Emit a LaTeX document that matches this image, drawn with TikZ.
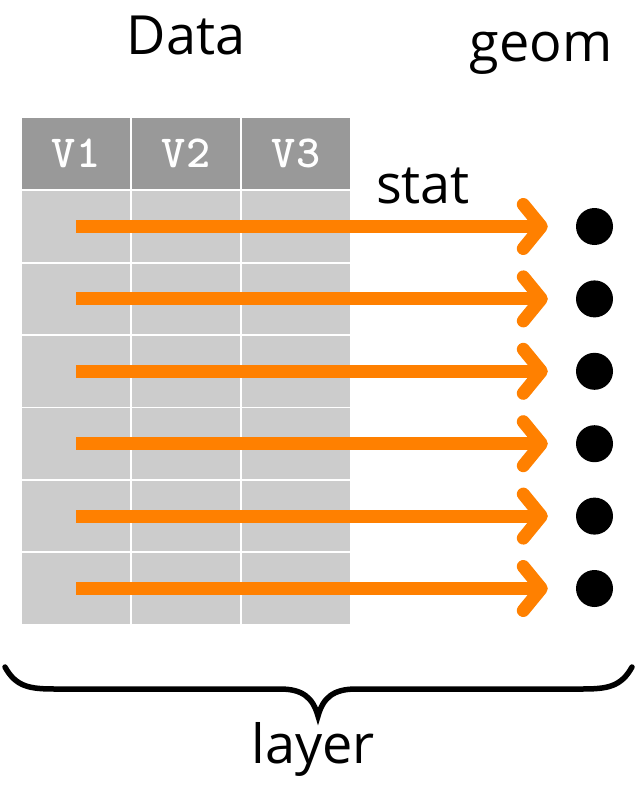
\documentclass[tikz,border=0pt]{standalone}
\usepackage{fontspec}
\setmainfont{Open Sans}
\usepackage{tikz}
\usetikzlibrary{arrows.meta,calc,positioning}
\definecolor{flow}{HTML}{FF8000}
\definecolor{headgray}{HTML}{999999}
\definecolor{cellgray}{HTML}{CCCCCC}

\begin{document}
\begin{tikzpicture}[x=1pt,y=-1pt,>={Straight Barb[length=18pt,width=44pt,round]}]
    \tikzstyle{hcell}=[fill=headgray,text=white,minimum width=108.5pt,minimum height=71pt,inner sep=0pt,font=\fontsize{46}{46}\selectfont\ttfamily\bfseries]
    \tikzstyle{dcell}=[fill=cellgray,minimum width=108.5pt,minimum height=70.5pt,inner sep=0pt]
    \tikzstyle{lbl}=[font=\fontsize{54}{60}\selectfont,inner sep=0pt,anchor=base]
    \tikzstyle{dot}=[circle,fill=black,minimum size=37pt,inner sep=0pt]
    \useasboundingbox (0,0) rectangle (636,805);
    % table header
    \foreach \c in {1,2,3}
      \node[hcell] (h\c) at ({76+110*(\c-1)},153.5) {V\c};
    % rows, dots and stat arrows
    \foreach \r in {1,...,6} {
      \foreach \c in {1,2,3}
        \node[dcell] (c\r\c) at ({76+110*(\c-1)},{226.5+72.4*(\r-1)}) {};
      \node[dot] (d\r) at (594.5,{226.5+72.4*(\r-1)}) {};
    }
    \foreach \r in {1,...,6}
      \draw[->,color=flow,line width=13pt,shorten >=28pt] (c\r1.center) -- (d\r);
    % labels
    \node[lbl] (data) at (186,55) {Data};
    \node[lbl] (geom) at (541,62) {geom};
    \node[lbl] (stat) at (423,203) {stat};
    \node[lbl] (layer) at (313,763) {layer};
    % brace under the layer
    \coordinate (bl) at (5,667);
    \coordinate (tip) at (318,716);
    \coordinate (br) at (632,667);
    \draw[line width=5.5pt,line cap=round,line join=miter] (bl) .. controls (16,687) and (30,689) .. (55,689)
      -- (280,689) .. controls (303,689) and (313,698) .. (tip)
      .. controls (323,698) and (333,689) .. (356,689)
      -- (582,689) .. controls (607,689) and (621,687) .. (br);
  \end{tikzpicture}
\end{document}
